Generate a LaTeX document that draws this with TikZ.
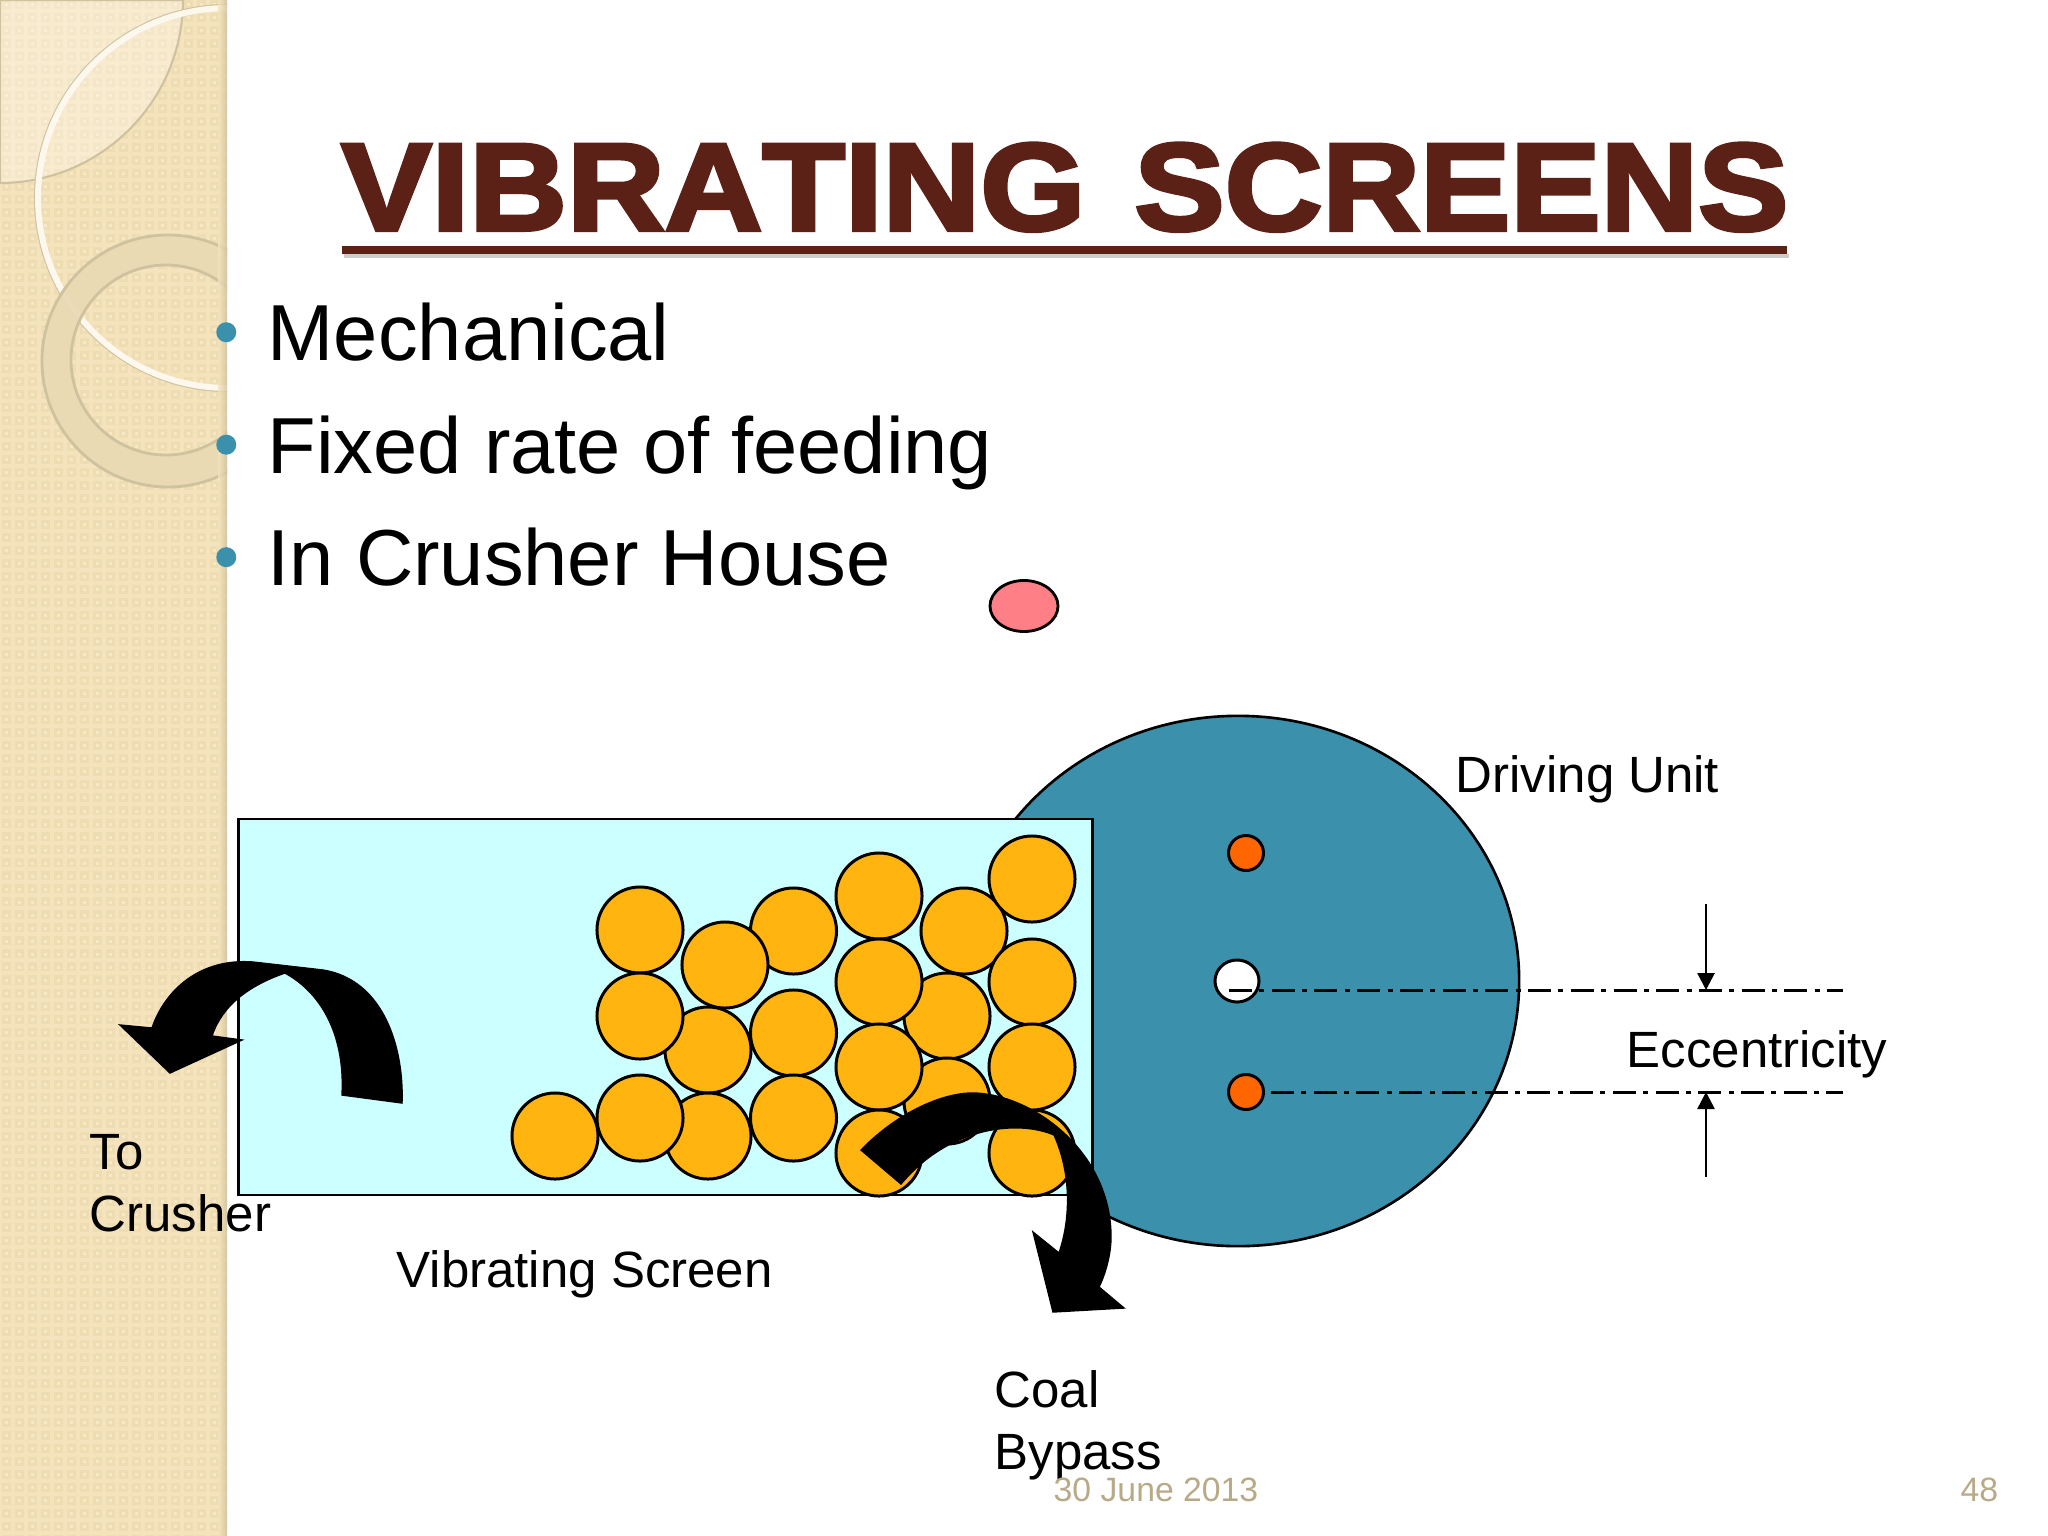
\documentclass[tikz,border=0pt]{standalone}
\usepackage{fontspec}
\setmainfont{Liberation Sans}
\newfontfamily\titlefont[FakeBold=3.2,FakeStretch=1.09,Kerning=Off,WordSpace=1.3]{Liberation Sans Bold}
\usetikzlibrary{shapes.geometric,arrows.meta,positioning}
\definecolor{titlebrown}{HTML}{5B2116}
\definecolor{tealblue}{HTML}{3B90AC}
\definecolor{panelsand}{HTML}{F5E3BD}
\definecolor{paneldark}{HTML}{EEDCB2}
\definecolor{panellight}{HTML}{F7E8C8}
\definecolor{ringsand}{HTML}{E9DAB4}
\definecolor{ringedge}{HTML}{CFC29F}
\definecolor{footgray}{HTML}{B8A987}
\definecolor{coalorange}{HTML}{FFB40F}
\definecolor{pinorange}{HTML}{FF6600}
\definecolor{screencyan}{HTML}{CCFFFF}
\definecolor{pinkfill}{HTML}{FF7F87}
\tikzstyle{coal} = [circle, minimum size=0.86cm, inner sep=0pt, draw=black, line width=0.85pt, fill=coalorange]
\tikzstyle{pin} = [ellipse, minimum width=0.35cm, minimum height=0.35cm, inner sep=0pt, draw=black, line width=0.85pt, fill=pinorange]
\tikzstyle{lbl} = [anchor=base west, inner sep=0pt, align=left, font=\fontsize{14.5pt}{17.4pt}\selectfont]
\tikzstyle{foot} = [anchor=base west, inner sep=0pt, text=footgray, font=\fontsize{9.6pt}{11pt}\selectfont]
\tikzstyle{point} = [anchor=north west, inner sep=0pt, text height=0.57cm, text depth=0pt, font=\fontsize{22.6pt}{27pt}\selectfont]
\tikzstyle{bullet} = [circle, minimum size=0.2cm, inner sep=0pt, fill=tealblue]
\tikzstyle{centre} = [line width=0.85pt, dash pattern=on 0.23cm off 0.073cm on 0.05cm off 0.074cm]
\tikzstyle{arrow} = [line width=0.75pt,-{Triangle[length=0.17cm,width=0.17cm]}]
\tikzstyle{bigarrow} = [fill=black]
\begin{document}
\begin{tikzpicture}[x=0.01cm,y=-0.01cm]
\useasboundingbox (0,0) rectangle (2048,1536);

%side panel
\begin{scope}
\clip (0,0) rectangle (227,1536);
\fill[panelsand] (0,0) rectangle (227,1536);
\foreach \c in {0,...,17}{
  \draw[paneldark,line width=0.09cm,dash pattern=on 0.09cm off 0.04cm] (6.5+13*\c,0) -- (6.5+13*\c,1536);
  \draw[panellight,line width=0.03cm,dash pattern=on 0.03cm off 0.1cm,dash phase=-0.03cm] (6.5+13*\c,0) -- (6.5+13*\c,1536);
}
\fill[white,opacity=0.3] (0,0) -- (183,0) arc[start angle=0,end angle=90,x radius=183,y radius=183] -- cycle;
\draw[ringedge,line width=0.6pt] (0,0) -- (183,0) arc[start angle=0,end angle=90,x radius=183,y radius=183] -- cycle;
\draw[ringedge,line width=0.6pt] (228,198) circle[radius=193];
\draw[white!70!panellight,line width=1.7pt] (228,198) circle[radius=190];
\fill[ringsand,draw=ringedge,line width=0.8pt,even odd rule,fill opacity=0.9] (168,361) circle[radius=126] (166,360) circle[radius=95];
\shade[left color=panelsand,right color=ringedge,opacity=0.8] (218,0) rectangle (227,1536);
\end{scope}

%title
\node (title) [anchor=base,inner sep=0pt,text=titlebrown,font=\titlefont\fontsize{35.3pt}{40pt}\selectfont] at (1065,230) {VIBRATING SCREENS};
\fill[gray!40] (344,254) rectangle (1789,258);
\fill[titlebrown] (342,246) rectangle (1787,254);

%bullet list
\node (mech) [point] at (267,303) {Mechanical};
\node (fixed) [point,below=0.54cm of mech.south west,anchor=north west] {Fixed rate of feeding};
\node (house) [point,below=0.54cm of fixed.south west,anchor=north west] {In Crusher House};
\node (dota) [bullet,left=0.3cm of mech] {};
\node (dotb) [bullet,left=0.3cm of fixed] {};
\node (dotc) [bullet,left=0.3cm of house] {};

\node (pink) [ellipse,minimum width=0.68cm,minimum height=0.51cm,inner sep=0pt,draw=black,line width=0.8pt,fill=pinkfill] at (1024,606) {};

%driving unit and screen
\node (drum) [ellipse,minimum width=5.62cm,minimum height=5.3cm,inner sep=0pt,draw=black,line width=0.75pt,fill=tealblue] at (1238,981) {};
\node (screen) [rectangle,minimum width=8.53cm,minimum height=3.76cm,inner sep=0pt,draw=black,line width=0.75pt,fill=screencyan] at (665.5,1007) {};

%coal
\foreach \n/\x/\y in {b/793.5/930,k/708/1049,s/708/1135,h/947/1015,n/947/1100,e/964/930,p/1032/1152,
  a/640/929,c/725/964,d/879/895,f/1032/878,g/1032/981,i/879/981,j/640/1015,l/793.5/1032,
  m/879/1066,o/1032/1066,q/879/1152,r/555/1135,t/640/1117,u/793.5/1117}
  \node (coal\n) [coal] at (\x,\y+1) {};

%pins
\node (pintop) [pin] at (1246,853) {};
\node (pinlow) [pin] at (1246,1092) {};
\node (pinmid) [pin,minimum width=0.44cm,minimum height=0.42cm,fill=white] at (1237,981) {};

%centre lines
\coordinate (midend) at (1843,990);
\coordinate (midstart) at (1229,990);
\coordinate (lowend) at (1843,1092);
\coordinate (lowstart) at (1271,1092);
\draw [centre] (midstart) -- (midend);
\draw [centre] (lowstart) -- (lowend);
\coordinate (uptop) at (1706,904);
\coordinate (uptip) at (1706,990);
\coordinate (downtop) at (1706,1177);
\coordinate (downtip) at (1706,1092);
\draw [arrow] (uptop) -- (uptip);
\draw [arrow] (downtop) -- (downtip);

%big arrows
\draw [bigarrow] (402,1103) .. controls (404,1050) and (385,980) .. (323,970) -- (253,962)
  .. controls (200,958) and (165,990) .. (152,1028) -- (120,1025) -- (170,1073) -- (242,1040) -- (212,1036)
  .. controls (222,1005) and (250,985) .. (285,973) .. controls (325,995) and (345,1040) .. (342,1095) -- cycle;
\draw [bigarrow] (861,1150) .. controls (900,1110) and (945,1093) .. (972,1093)
  .. controls (1030,1093) and (1111,1150) .. (1111,1237) .. controls (1111,1255) and (1105,1275) .. (1099,1287)
  -- (1124,1308) -- (1053,1312) -- (1033,1232) -- (1059,1253)
  .. controls (1072,1215) and (1070,1170) .. (1054,1135) .. controls (1020,1120) and (950,1125) .. (901,1184) -- cycle;

%labels
\node (driving) [lbl] at (1455,792) {Driving Unit};
\node (ecc) [lbl] at (1626,1067) {Eccentricity};
\node (vib) [lbl] at (396,1287) {Vibrating Screen};
\node (crusher) [lbl] at (89,1231) {To\\Crusher};
\node (bypass) [lbl] at (994,1469) {Coal\\Bypass};
\node (date) [foot] at (1053,1501) {30 June 2013};
\node (page) [foot] at (1960,1501) {48};
\end{tikzpicture}
\end{document}
